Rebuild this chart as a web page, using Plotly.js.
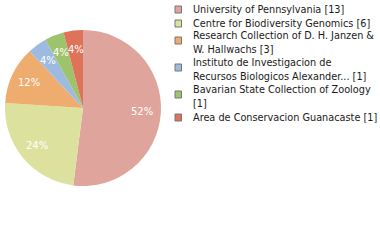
<!DOCTYPE html>
<html><head><meta charset="utf-8">
<script src="https://cdn.plot.ly/plotly-3.0.1.min.js"></script>
<style>html,body{margin:0;padding:0;background:#fff}#chart{width:380px;height:240px}</style>
</head><body><div id="chart"></div>
<script>
var labels = ["University of Pennsylvania [13]", "Centre for Biodiversity Genomics [6]", "Research Collection of D. H. Janzen &<br>W. Hallwachs [3]", "Instituto de Investigacion de<br>Recursos Biologicos Alexander... [1]", "Bavarian State Collection of Zoology<br>[1]", "Area de Conservacion Guanacaste [1]"];
var values = [13, 6, 3, 1, 1, 1];
var colors = ["#dfa49b", "#dce29d", "#eeac6f", "#9dbbe0", "#9dc46d", "#df7359"];
var legendY = [9.5, 23.5, 42, 69, 96, 117.5];
var lineCount = labels.map(function(l){return l.split("<br>").length;});

var W = 380, H = 240;
var dom = {x0:5, x1:161, y0:30, y1:186};   // pie box in pixels
var cx = (dom.x0+dom.x1)/2, cy = (dom.y0+dom.y1)/2, R = (dom.x1-dom.x0)/2;

var shapes = [], annotations = [];
for (var i = 0; i < labels.length; i++) {
  var sy = legendY[i] - (lineCount[i] > 1 ? 1.5 : 0);
  shapes.push({type:"rect", xref:"paper", yref:"paper",
    x0:175/W, x1:181.5/W, y0:1-(sy+3.5)/H, y1:1-(sy-3.5)/H,
    fillcolor:colors[i], line:{color:"#777", width:1}});
  annotations.push({xref:"paper", yref:"paper", x:191/W, y:1-legendY[i]/H,
    xanchor:"left", yanchor:"middle", align:"left", showarrow:false,
    text:labels[i], font:{family:"DejaVu Sans Condensed, DejaVu Sans", size:10.8, color:"#1a1a1a"}});
}
// percent labels placed along each slice's mid-angle
var total = values.reduce(function(a,b){return a+b;}, 0), cum = 0;
for (var j = 0; j < values.length; j++) {
  var mid = (cum + values[j]/2) / total * 2 * Math.PI;
  cum += values[j];
  var px = cx + 0.76*R*Math.sin(mid), py = cy - 0.76*R*Math.cos(mid);
  annotations.push({xref:"paper", yref:"paper", x:px/W, y:1-py/H, xanchor:"center", yanchor:"middle",
    showarrow:false, text:Math.round(values[j]/total*100) + "%",
    font:{family:"DejaVu Sans", size:10, color:"#fff"}});
}

var data = [{type:"pie", values:values, labels:labels, sort:false, direction:"clockwise", rotation:0,
  marker:{colors:colors, line:{width:0}}, textinfo:"none",
  hoverinfo:"none",
  domain:{x:[dom.x0/W, dom.x1/W], y:[1-dom.y1/H, 1-dom.y0/H]}}];
var layout = {width:W, height:H, margin:{l:0,r:0,t:0,b:0}, showlegend:false,
  paper_bgcolor:"#fff", shapes:shapes, annotations:annotations};
Plotly.newPlot("chart", data, layout, {staticPlot:true});
</script></body></html>
